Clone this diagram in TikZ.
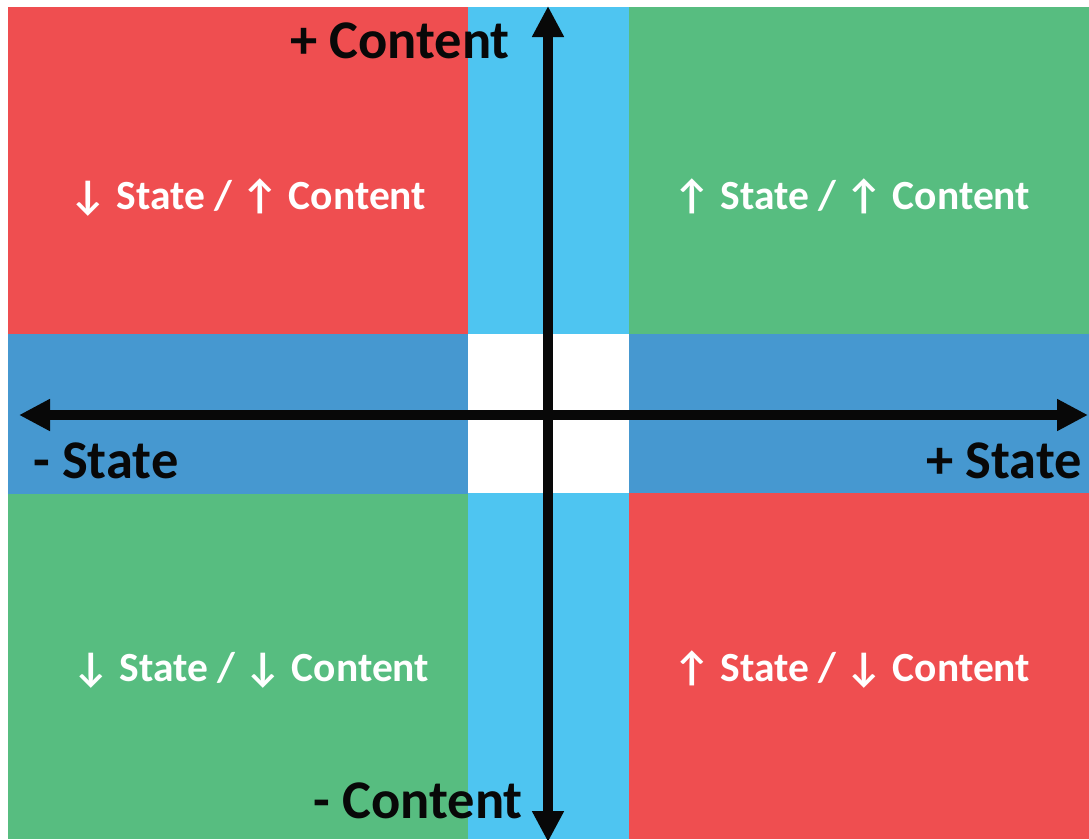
\documentclass[tikz,border=0pt]{standalone}
\usepackage{fontspec}
\setmainfont{Carlito}
\usetikzlibrary{arrows.meta}
\definecolor{qred}{RGB}{239,78,80}
\definecolor{qgreen}{RGB}{87,189,128}
\definecolor{qcyan}{RGB}{78,197,241}
\definecolor{qblue}{RGB}{70,152,208}
\tikzset{
  area/.style={inner sep=0pt, outer sep=0pt, draw=none, anchor=north west},
  axis/.style={line width=10.5pt, draw={rgb,255:red,8;green,8;blue,8}, -{Triangle[width=30pt,length=31pt]}},
  axislabel/.style={font=\fontsize{54.5}{58}\selectfont\bfseries, text={rgb,255:red,8;green,8;blue,8}, inner sep=0pt},
  quadlabel/.style={font=\fontsize{41.5}{46}\selectfont\bfseries, text=white, inner sep=0pt, anchor=base}
}
\begin{document}
\begin{tikzpicture}[x=1pt,y=-1pt]
\useasboundingbox[fill=white] (0,0) rectangle (1089,839);
% bands and quadrants
\node[area, fill=qcyan, minimum width=161pt, minimum height=832pt] (vband) at (468,7) {};
\node[area, fill=qred, minimum width=460pt, minimum height=327pt] (tl) at (8,7) {};
\node[area, fill=qgreen, minimum width=460pt, minimum height=327pt] (tr) at (629,7) {};
\node[area, fill=qblue, minimum width=460pt, minimum height=160pt] (bandl) at (8,334) {};
\node[area, fill=qblue, minimum width=460pt, minimum height=159pt] (bandr) at (629,334) {};
\node[area, fill=white, minimum width=161pt, minimum height=159pt] (center) at (468,334) {};
\node[area, fill=qgreen, minimum width=460pt, minimum height=345pt] (bl) at (8,494) {};
\node[area, fill=qred, minimum width=460pt, minimum height=346pt] (br) at (629,493) {};
% quadrant labels
\node[quadlabel] (ltl) at (248,209) {↓ State / ↑ Content};
\node[quadlabel] (ltr) at (852,209) {↑ State / ↑ Content};
\node[quadlabel] (lbl) at (251,681) {↓ State / ↓ Content};
\node[quadlabel] (lbr) at (852,681) {↑ State / ↓ Content};
% axes
\coordinate (vtop) at (548,6);
\coordinate (vbot) at (548,842);
\coordinate (hmid) at (548,415);
\coordinate (hleft) at (19,415);
\coordinate (hright) at (1088,415);
\draw[axis] (hmid) -- (vtop);
\draw[axis] (hmid) -- (vbot);
\draw[axis] (hmid) -- (hleft);
\draw[axis] (hmid) -- (hright);
% axis labels
\node[axislabel, anchor=base east] (pc) at (510,58) {+ Content};
\node[axislabel, anchor=base east] (mc) at (523,818) {- Content};
\node[axislabel, anchor=base west] (ms) at (33,478) {- State};
\node[axislabel, anchor=base east] (ps) at (1082,478) {+ State};
\end{tikzpicture}
\end{document}
